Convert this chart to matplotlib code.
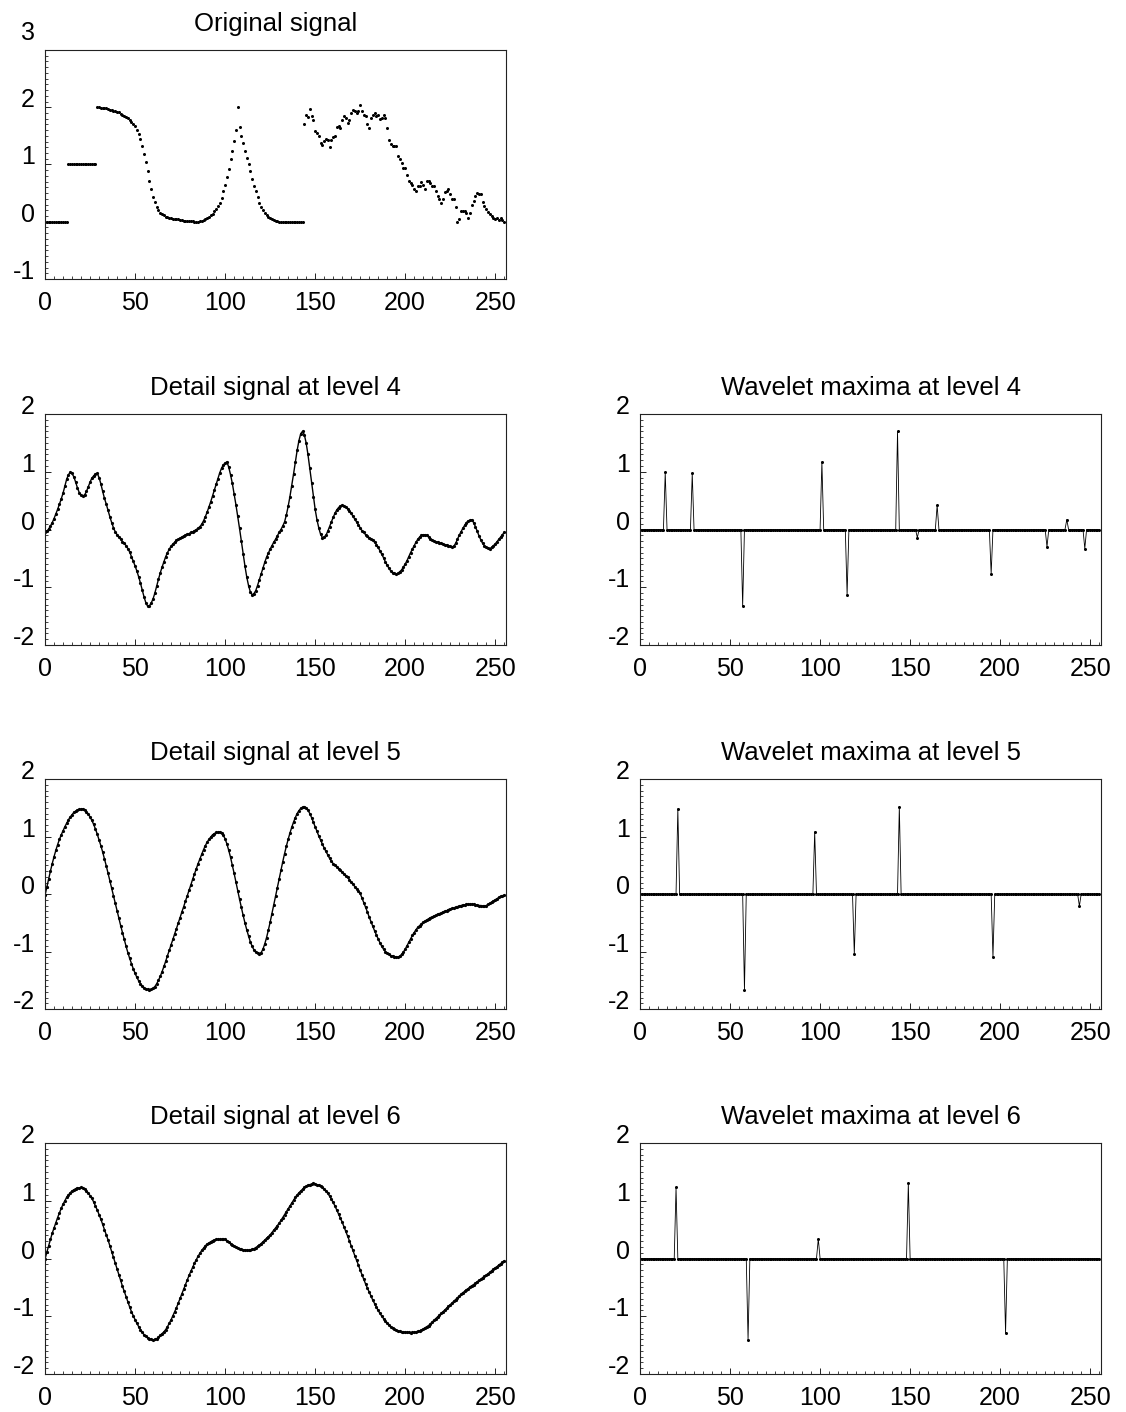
import numpy as np
import matplotlib
matplotlib.use("Agg")
import matplotlib.pyplot as plt
from matplotlib import transforms

plt.rcParams["font.family"] = ["Liberation Sans", "DejaVu Sans"]

# ---------------------------------------------------------------
# Data (256 samples each)
# ---------------------------------------------------------------

# test signal: zero step, unit step, smooth fall, bump with a spike, noisy tail
original = [
    0.00, 0.00, 0.00, 0.00, 0.00, 0.00, 0.00, 0.00, 0.00, 0.00, 0.00, 0.00, 0.00, 1.00, 1.00, 1.00,
    1.00, 1.00, 1.00, 1.00, 1.00, 1.00, 1.00, 1.00, 1.00, 1.00, 1.00, 1.00, 1.00, 2.00, 2.00, 1.99,
    1.99, 1.98, 1.98, 1.97, 1.96, 1.95, 1.94, 1.93, 1.92, 1.91, 1.89, 1.87, 1.85, 1.83, 1.81, 1.78,
    1.75, 1.71, 1.67, 1.61, 1.54, 1.45, 1.33, 1.19, 1.04, 0.88, 0.72, 0.57, 0.44, 0.34, 0.26, 0.20,
    0.16, 0.13, 0.11, 0.09, 0.08, 0.07, 0.06, 0.05, 0.05, 0.04, 0.04, 0.03, 0.03, 0.02, 0.02, 0.02,
    0.01, 0.01, 0.01, 0.00, 0.00, 0.00, 0.01, 0.02, 0.03, 0.04, 0.06, 0.08, 0.11, 0.14, 0.18, 0.22,
    0.27, 0.33, 0.42, 0.54, 0.65, 0.79, 0.93, 1.09, 1.24, 1.41, 1.61, 2.00, 1.66, 1.50, 1.38, 1.24,
    1.12, 1.00, 0.88, 0.75, 0.63, 0.54, 0.44, 0.33, 0.26, 0.20, 0.15, 0.11, 0.08, 0.06, 0.04, 0.03,
    0.02, 0.01, 0.00, 0.00, 0.00, 0.00, 0.00, 0.00, 0.00, 0.00, 0.00, 0.00, 0.00, 0.00, 0.00, 0.00,
    1.71, 1.87, 1.83, 1.97, 1.84, 1.78, 1.58, 1.55, 1.49, 1.38, 1.34, 1.41, 1.45, 1.43, 1.30, 1.43,
    1.48, 1.50, 1.66, 1.68, 1.64, 1.78, 1.84, 1.81, 1.72, 1.77, 1.90, 1.96, 1.94, 1.90, 1.93, 2.04,
    1.93, 1.87, 1.84, 1.70, 1.64, 1.81, 1.87, 1.90, 1.84, 1.87, 1.79, 1.81, 1.87, 1.81, 1.64, 1.43,
    1.36, 1.32, 1.33, 1.33, 1.14, 1.10, 1.03, 0.94, 0.94, 0.82, 0.71, 0.68, 0.65, 0.57, 0.54, 0.62,
    0.63, 0.69, 0.65, 0.57, 0.71, 0.71, 0.67, 0.62, 0.62, 0.54, 0.45, 0.39, 0.33, 0.39, 0.52, 0.54,
    0.58, 0.48, 0.39, 0.39, 0.25, 0.00, 0.04, 0.19, 0.19, 0.18, 0.16, 0.06, 0.16, 0.30, 0.36, 0.45,
    0.51, 0.49, 0.48, 0.35, 0.28, 0.22, 0.17, 0.13, 0.10, 0.07, 0.04, 0.07, 0.03, 0.06, 0.03, 0.00,
]

detail4 = [
    -0.05, -0.03, 0.01, 0.06, 0.12, 0.19, 0.27, 0.35, 0.44, 0.53, 0.63, 0.75, 0.87, 0.95, 0.99, 0.97,
    0.91, 0.82, 0.72, 0.64, 0.59, 0.58, 0.60, 0.66, 0.74, 0.82, 0.89, 0.93, 0.96, 0.97, 0.90, 0.79,
    0.66, 0.54, 0.44, 0.33, 0.22, 0.12, 0.03, -0.04, -0.09, -0.13, -0.17, -0.21, -0.24, -0.28, -0.33, -0.39,
    -0.47, -0.55, -0.63, -0.72, -0.82, -0.93, -1.05, -1.17, -1.27, -1.33, -1.32, -1.27, -1.20, -1.10, -0.98, -0.86,
    -0.75, -0.65, -0.56, -0.47, -0.40, -0.34, -0.29, -0.25, -0.22, -0.19, -0.17, -0.15, -0.13, -0.11, -0.10, -0.08,
    -0.07, -0.05, -0.04, -0.02, 0.00, 0.02, 0.05, 0.09, 0.15, 0.22, 0.30, 0.39, 0.48, 0.58, 0.68, 0.78,
    0.88, 0.98, 1.06, 1.12, 1.15, 1.17, 1.08, 0.95, 0.80, 0.62, 0.43, 0.23, 0.02, -0.20, -0.42, -0.63,
    -0.82, -0.97, -1.08, -1.13, -1.11, -1.06, -0.97, -0.87, -0.77, -0.67, -0.57, -0.48, -0.41, -0.34, -0.28, -0.22,
    -0.17, -0.11, -0.05, 0.00, 0.06, 0.13, 0.25, 0.40, 0.57, 0.76, 0.96, 1.17, 1.37, 1.54, 1.66, 1.70,
    1.64, 1.50, 1.30, 1.06, 0.81, 0.57, 0.35, 0.17, 0.03, -0.08, -0.14, -0.13, -0.10, -0.03, 0.05, 0.13,
    0.21, 0.28, 0.34, 0.38, 0.41, 0.42, 0.41, 0.39, 0.36, 0.32, 0.28, 0.23, 0.18, 0.13, 0.08, 0.03,
    -0.02, -0.05, -0.09, -0.12, -0.14, -0.16, -0.19, -0.22, -0.26, -0.31, -0.37, -0.43, -0.49, -0.56, -0.62, -0.67,
    -0.72, -0.75, -0.76, -0.77, -0.76, -0.73, -0.70, -0.65, -0.60, -0.54, -0.47, -0.40, -0.34, -0.28, -0.22, -0.17,
    -0.13, -0.10, -0.09, -0.09, -0.10, -0.13, -0.16, -0.18, -0.20, -0.21, -0.22, -0.23, -0.24, -0.25, -0.26, -0.27,
    -0.28, -0.29, -0.30, -0.29, -0.24, -0.17, -0.10, -0.04, 0.02, 0.07, 0.12, 0.15, 0.16, 0.17, 0.12, 0.05,
    -0.03, -0.11, -0.18, -0.24, -0.28, -0.31, -0.32, -0.33, -0.31, -0.28, -0.25, -0.21, -0.17, -0.13, -0.09, -0.05,
]

detail5 = [
    -0.02, 0.12, 0.26, 0.40, 0.53, 0.65, 0.76, 0.86, 0.95, 1.03, 1.10, 1.17, 1.23, 1.29, 1.34, 1.38,
    1.42, 1.44, 1.46, 1.47, 1.47, 1.48, 1.46, 1.43, 1.39, 1.34, 1.28, 1.21, 1.13, 1.04, 0.94, 0.84,
    0.73, 0.61, 0.49, 0.36, 0.23, 0.10, -0.03, -0.16, -0.29, -0.42, -0.55, -0.67, -0.79, -0.91, -1.02, -1.12,
    -1.21, -1.30, -1.38, -1.45, -1.51, -1.56, -1.60, -1.63, -1.65, -1.66, -1.67, -1.66, -1.64, -1.61, -1.56, -1.50,
    -1.43, -1.35, -1.26, -1.17, -1.07, -0.98, -0.88, -0.79, -0.69, -0.60, -0.50, -0.41, -0.31, -0.22, -0.12, -0.03,
    0.07, 0.16, 0.26, 0.35, 0.44, 0.53, 0.61, 0.69, 0.77, 0.84, 0.90, 0.95, 0.99, 1.03, 1.05, 1.07,
    1.07, 1.08, 1.06, 1.02, 0.96, 0.87, 0.76, 0.64, 0.50, 0.36, 0.21, 0.06, -0.09, -0.23, -0.37, -0.50,
    -0.62, -0.73, -0.83, -0.91, -0.97, -1.01, -1.03, -1.05, -1.02, -0.96, -0.87, -0.76, -0.63, -0.49, -0.34, -0.19,
    -0.04, 0.11, 0.26, 0.41, 0.56, 0.70, 0.83, 0.95, 1.06, 1.16, 1.25, 1.33, 1.40, 1.45, 1.49, 1.51,
    1.52, 1.50, 1.46, 1.40, 1.33, 1.25, 1.17, 1.09, 1.01, 0.94, 0.87, 0.80, 0.74, 0.68, 0.62, 0.57,
    0.53, 0.50, 0.47, 0.44, 0.41, 0.38, 0.35, 0.32, 0.29, 0.25, 0.21, 0.17, 0.13, 0.09, 0.05, 0.01,
    -0.07, -0.15, -0.23, -0.31, -0.40, -0.48, -0.56, -0.64, -0.71, -0.78, -0.85, -0.91, -0.96, -1.00, -1.03, -1.05,
    -1.07, -1.08, -1.09, -1.09, -1.10, -1.08, -1.05, -1.01, -0.96, -0.90, -0.84, -0.78, -0.72, -0.67, -0.62, -0.58,
    -0.55, -0.52, -0.49, -0.47, -0.45, -0.43, -0.41, -0.40, -0.38, -0.37, -0.35, -0.34, -0.33, -0.31, -0.30, -0.29,
    -0.27, -0.26, -0.25, -0.24, -0.23, -0.22, -0.21, -0.20, -0.19, -0.19, -0.18, -0.18, -0.18, -0.18, -0.18, -0.19,
    -0.19, -0.20, -0.20, -0.21, -0.21, -0.20, -0.18, -0.16, -0.14, -0.12, -0.10, -0.08, -0.06, -0.04, -0.03, -0.02,
]

detail6 = [
    -0.01, 0.11, 0.22, 0.33, 0.44, 0.53, 0.62, 0.71, 0.79, 0.87, 0.94, 1.00, 1.06, 1.10, 1.14, 1.17,
    1.19, 1.21, 1.22, 1.22, 1.23, 1.22, 1.20, 1.17, 1.13, 1.09, 1.04, 0.98, 0.91, 0.84, 0.76, 0.68,
    0.59, 0.50, 0.41, 0.32, 0.22, 0.12, 0.02, -0.08, -0.18, -0.28, -0.38, -0.48, -0.57, -0.66, -0.75, -0.84,
    -0.92, -0.99, -1.06, -1.12, -1.18, -1.23, -1.28, -1.32, -1.35, -1.37, -1.39, -1.40, -1.41, -1.40, -1.39, -1.36,
    -1.33, -1.30, -1.27, -1.23, -1.18, -1.12, -1.06, -0.99, -0.92, -0.85, -0.77, -0.69, -0.61, -0.53, -0.45, -0.37,
    -0.29, -0.22, -0.15, -0.08, -0.02, 0.04, 0.09, 0.14, 0.18, 0.22, 0.25, 0.27, 0.29, 0.31, 0.32, 0.33,
    0.33, 0.33, 0.33, 0.34, 0.33, 0.31, 0.29, 0.26, 0.24, 0.22, 0.20, 0.18, 0.17, 0.16, 0.15, 0.15,
    0.14, 0.14, 0.15, 0.16, 0.17, 0.19, 0.21, 0.23, 0.26, 0.29, 0.32, 0.35, 0.38, 0.41, 0.45, 0.49,
    0.53, 0.57, 0.61, 0.66, 0.71, 0.76, 0.81, 0.86, 0.91, 0.96, 1.01, 1.06, 1.10, 1.14, 1.17, 1.20,
    1.23, 1.25, 1.27, 1.28, 1.29, 1.30, 1.29, 1.28, 1.27, 1.25, 1.23, 1.20, 1.17, 1.13, 1.08, 1.03,
    0.97, 0.91, 0.84, 0.77, 0.70, 0.63, 0.55, 0.47, 0.39, 0.31, 0.22, 0.14, 0.05, -0.03, -0.11, -0.20,
    -0.28, -0.36, -0.44, -0.51, -0.58, -0.65, -0.72, -0.78, -0.84, -0.90, -0.95, -1.00, -1.04, -1.08, -1.12, -1.15,
    -1.18, -1.20, -1.22, -1.24, -1.25, -1.26, -1.27, -1.27, -1.28, -1.28, -1.28, -1.29, -1.28, -1.28, -1.27, -1.26,
    -1.25, -1.24, -1.22, -1.20, -1.18, -1.16, -1.13, -1.10, -1.07, -1.04, -1.01, -0.98, -0.95, -0.92, -0.89, -0.86,
    -0.83, -0.80, -0.77, -0.74, -0.71, -0.68, -0.65, -0.62, -0.59, -0.57, -0.54, -0.52, -0.49, -0.47, -0.45, -0.43,
    -0.40, -0.38, -0.36, -0.33, -0.31, -0.29, -0.26, -0.24, -0.21, -0.19, -0.16, -0.14, -0.11, -0.09, -0.06, -0.04,
]

# positions of the modulus maxima kept at each level
maxima_idx4 = [14, 29, 57, 101, 115, 143, 154, 165, 195, 226, 237, 247]
maxima_idx5 = [21, 58, 97, 119, 144, 196, 244]
maxima_idx6 = [20, 60, 99, 149, 203]

XTICKS = [0, 50, 100, 150, 200, 250]

TICK_FS = 18
TITLE_FS = 18.5

# ---------------------------------------------------------------
# Helpers
# ---------------------------------------------------------------

def maxima_signal(detail, idx):
    out = np.zeros(len(detail))
    d = np.asarray(detail)
    out[idx] = d[idx]
    return out


def style_axes(fig, ax, title, ylim, yticks, top_raise=0.0):
    ax.set_xlim(0, 256)
    ax.set_ylim(*ylim)
    ax.set_xticks(XTICKS)
    ax.set_xticks(np.arange(0, 256, 5), minor=True)
    ax.set_yticks(yticks)
    ax.set_yticks(np.arange(ylim[0], ylim[1] + 0.001, 0.1), minor=True)
    ax.tick_params(which="both", direction="in", top=False, right=False,
                   labelleft=False, color="#222222")
    ax.tick_params(which="major", length=4.5, width=0.7)
    ax.tick_params(which="minor", length=2.2, width=0.6)
    ax.tick_params(axis="x", labelsize=TICK_FS, pad=8.5)
    for side in ax.spines.values():
        side.set_linewidth(0.8)
        side.set_color("#222222")

    # y labels sit with their baseline on the tick
    shift = transforms.ScaledTranslation(-0.10, 0, fig.dpi_scale_trans)
    trans = transforms.blended_transform_factory(ax.transAxes, ax.transData) + shift
    for i, t in enumerate(yticks):
        tr = trans
        if i == len(yticks) - 1 and top_raise:
            tr = trans + transforms.ScaledTranslation(0, top_raise, fig.dpi_scale_trans)
        ax.text(0, t, f"{t:g}", transform=tr, ha="right", va="baseline",
                fontsize=TICK_FS, clip_on=False)

    ax.set_title(title, fontsize=TITLE_FS, pad=13.5)


# ---------------------------------------------------------------
# Figure
# ---------------------------------------------------------------

fig = plt.figure(figsize=(11.26, 14.12), dpi=100)

LEFT_X, RIGHT_X, WIDTH = 0.040, 0.5684, 0.4094
ROWS = [(0.8024, 0.1622), (0.5432, 0.1636), (0.2854, 0.1629), (0.0269, 0.1636)]

x = np.arange(256)

# original signal
ax = fig.add_axes([LEFT_X, ROWS[0][0], WIDTH, ROWS[0][1]])
ax.plot(x, original, linestyle="none", marker="o", markersize=2.2,
        markeredgewidth=0, color="black")
style_axes(fig, ax, "Original signal", (-1, 3), [-1, 0, 1, 2, 3], top_raise=0.10)

details = [detail4, detail5, detail6]
maxima_idx = [maxima_idx4, maxima_idx5, maxima_idx6]
levels = [4, 5, 6]

for r, (detail, idx, level) in enumerate(zip(details, maxima_idx, levels), start=1):
    y0, h = ROWS[r]

    ax = fig.add_axes([LEFT_X, y0, WIDTH, h])
    ax.plot(x, detail, color="black", linewidth=1.0, marker="o",
            markersize=2.3, markeredgewidth=0)
    style_axes(fig, ax, f"Detail signal at level {level}", (-2, 2), [-2, -1, 0, 1, 2])

    ax = fig.add_axes([RIGHT_X, y0, WIDTH, h])
    ax.plot(x, maxima_signal(detail, idx), color="black", linewidth=0.6,
            marker="o", markersize=2.2, markeredgewidth=0)
    style_axes(fig, ax, f"Wavelet maxima at level {level}", (-2, 2), [-2, -1, 0, 1, 2])

fig.savefig("out.png", dpi=100, facecolor="white")
